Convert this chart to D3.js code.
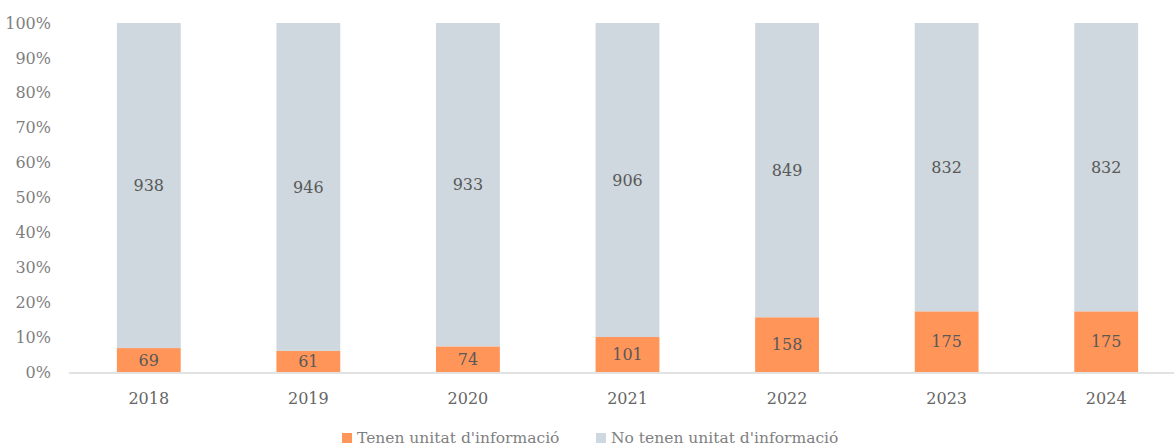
<!DOCTYPE html>
<html>
<head>
<meta charset="utf-8">
<script src="https://cdn.jsdelivr.net/npm/d3@7"></script>
<style>
  body { margin: 0; background: #fff; }
  svg { display: block; font-family: "Roboto Slab", "DejaVu Serif", serif; font-weight: 300; }
</style>
</head>
<body>
<script>
const years = ['2018', '2019', '2020', '2021', '2022', '2023', '2024'];
const tenen = [69, 61, 74, 101, 158, 175, 175];
const noTenen = [938, 946, 933, 906, 849, 832, 832];
const seriesNames = ["Tenen unitat d'informació", "No tenen unitat d'informació"];
const seriesColors = ['#FF9559', '#CED8DE'];
const yTicks = [0, 0.1, 0.2, 0.3, 0.4, 0.5, 0.6, 0.7, 0.8, 0.9, 1];

const width = 1174;
const height = 448;

const rows = years.map((y, i) => ({ year: y, tenen: tenen[i], noTenen: noTenen[i] }));
const stack = d3.stack()
  .keys(['tenen', 'noTenen'])
  .offset(d3.stackOffsetExpand);
const layers = stack(rows);

const x = d3.scaleBand()
  .domain(years)
  .range([69, 1186])
  .paddingInner(0.6)
  .paddingOuter(0.3);

const y = d3.scaleLinear()
  .domain([0, 1])
  .range([372, 23]);

const svg = d3.select('body').append('svg')
  .attr('width', width)
  .attr('height', height)
  .attr('viewBox', [0, 0, width, height]);

// y tick labels
svg.append('g')
  .selectAll('text')
  .data(yTicks)
  .join('text')
  .attr('x', 51)
  .attr('y', (d) => y(d))
  .attr('dy', '0.35em')
  .attr('text-anchor', 'end')
  .attr('font-size', 16)
  .attr('fill', '#7F7F7F')
  .text(d3.format('.0%'));

// bars
const layer = svg.append('g')
  .selectAll('g')
  .data(layers)
  .join('g')
  .attr('fill', (d, i) => seriesColors[i]);

layer.selectAll('rect')
  .data((d) => d)
  .join('rect')
  .attr('x', (d) => x(d.data.year))
  .attr('width', x.bandwidth())
  .attr('y', (d) => y(d[1]))
  .attr('height', (d) => y(d[0]) - y(d[1]));

// data labels
layer.selectAll('text')
  .data((d) => d.map((v) => ({ v, key: d.key })))
  .join('text')
  .attr('x', (d) => x(d.v.data.year) + x.bandwidth() / 2)
  .attr('y', (d) => (y(d.v[0]) + y(d.v[1])) / 2)
  .attr('dy', '0.35em')
  .attr('text-anchor', 'middle')
  .attr('font-size', 16)
  .attr('fill', '#595959')
  .text((d) => d.v.data[d.key]);

// baseline
svg.append('line')
  .attr('x1', 69)
  .attr('x2', width)
  .attr('y1', 373)
  .attr('y2', 373)
  .attr('stroke', '#D9D9D9')
  .attr('stroke-width', 1.5);

// x labels
svg.append('g')
  .selectAll('text')
  .data(years)
  .join('text')
  .attr('x', (d) => x(d) + x.bandwidth() / 2)
  .attr('y', 398)
  .attr('dy', '0.35em')
  .attr('text-anchor', 'middle')
  .attr('font-size', 16)
  .attr('fill', '#666666')
  .text((d) => d);

// legend
const legendX = [342, 596];
const legend = svg.append('g')
  .selectAll('g')
  .data(seriesNames)
  .join('g')
  .attr('transform', (d, i) => `translate(${legendX[i]},438)`);

legend.append('rect')
  .attr('x', 0)
  .attr('y', -5)
  .attr('width', 10)
  .attr('height', 10)
  .attr('fill', (d, i) => seriesColors[i]);

legend.append('text')
  .attr('x', 15)
  .attr('y', 0)
  .attr('dy', '0.35em')
  .attr('font-size', 15.5)
  .attr('fill', '#7F7F7F')
  .text((d) => d);
</script>
</body>
</html>
